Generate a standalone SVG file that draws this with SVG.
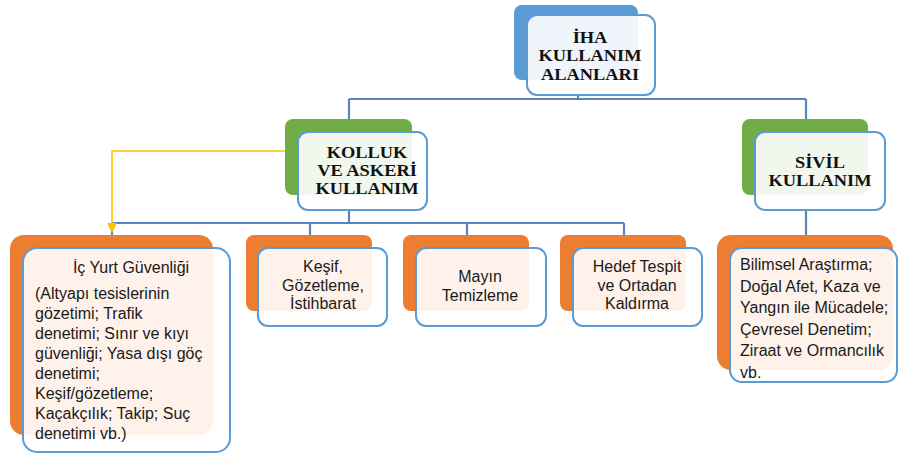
<svg xmlns="http://www.w3.org/2000/svg" width="899" height="454" viewBox="0 0 899 454">
<defs>
<style>
.bb{fill:#5B9BD5}
.bg{fill:#70AD47}
.bo{fill:#ED7D31}
.fr{fill:#FFFFFF;fill-opacity:0.9;stroke:#5B9BD5;stroke-width:2}
.ti{font-family:"Liberation Serif","Times New Roman",serif;font-weight:bold;font-size:16px;fill:#111;text-anchor:middle}
.tx{font-family:"Liberation Sans",Arial,sans-serif;font-size:16px;fill:#1a1a1a}
.c{text-anchor:middle}
.ln{fill:none;stroke:#5585C5;stroke-width:2.2}
.yl{fill:none;stroke:#FFC000;stroke-width:1.6}
</style>
</defs>
<rect width="899" height="454" fill="#FFFFFF"/>
<g id="connectors">
<path class="ln" d="M578 95 V99 M349 99 H806 M349 99 V119 M806 99 V119"/>
<path class="ln" d="M349 210 V223 M112 223 H624 M112 223 V235 M310 223 V235 M467 223 V235 M624 223 V235"/>
<path class="ln" d="M806 210 V235"/>
<path class="yl" d="M318 151 H112 V224"/>
<polygon points="107,223 117,223 112,233" fill="#FFC000"/>
</g>
<g id="iha">
<rect class="bb" x="514" y="5" width="124" height="75" rx="8"/>
<rect class="fr" x="527" y="15" width="128" height="80" rx="10"/>
<text class="ti" transform="translate(590,0) scale(1.15,1)"><tspan x="0" y="43">İHA</tspan><tspan x="0" y="61.5">KULLANIM</tspan><tspan x="0" y="80">ALANLARI</tspan></text>
</g>
<g id="kolluk">
<rect class="bg" x="285" y="119" width="127" height="76" rx="8"/>
<rect class="fr" x="298" y="132" width="129" height="78" rx="10"/>
<text class="ti" transform="translate(367,0) scale(1.15,1)"><tspan x="0" y="158.5">KOLLUK</tspan><tspan x="0" y="176.5">VE ASKERİ</tspan><tspan x="0" y="194.5">KULLANIM</tspan></text>
</g>
<g id="sivil">
<rect class="bg" x="742" y="119" width="126" height="76" rx="8"/>
<rect class="fr" x="755" y="132" width="130" height="78" rx="10"/>
<text class="ti" transform="translate(820,0) scale(1.15,1)"><tspan x="0" y="168">SİVİL</tspan><tspan x="0" y="186">KULLANIM</tspan></text>
</g>
<g id="icyurt">
<rect class="bo" x="10" y="235" width="203" height="200" rx="14"/>
<rect class="fr" x="23" y="248" width="207" height="204" rx="14"/>
<text class="tx c" x="131" y="273">İç Yurt Güvenliği</text>
<text class="tx"><tspan x="35" y="299">(Altyapı tesislerinin</tspan><tspan x="35" y="319">gözetimi; Trafik</tspan><tspan x="35" y="339">denetimi; Sınır ve kıyı</tspan><tspan x="35" y="359">güvenliği; Yasa dışı göç</tspan><tspan x="35" y="379">denetimi;</tspan><tspan x="35" y="399">Keşif/gözetleme;</tspan><tspan x="35" y="419">Kaçakçılık; Takip; Suç</tspan><tspan x="35" y="439">denetimi vb.)</tspan></text>
</g>
<g id="kesif">
<rect class="bo" x="246" y="235" width="126" height="76" rx="8"/>
<rect class="fr" x="258" y="248" width="129" height="78" rx="10"/>
<text class="tx c"><tspan x="323" y="272">Keşif,</tspan><tspan x="323" y="290.5">Gözetleme,</tspan><tspan x="323" y="309">İstihbarat</tspan></text>
</g>
<g id="mayin">
<rect class="bo" x="403" y="235" width="126" height="76" rx="8"/>
<rect class="fr" x="416" y="248" width="130" height="78" rx="10"/>
<text class="tx c"><tspan x="480" y="282">Mayın</tspan><tspan x="480" y="300.5">Temizleme</tspan></text>
</g>
<g id="hedef">
<rect class="bo" x="560" y="235" width="126" height="76" rx="8"/>
<rect class="fr" x="573" y="248" width="129" height="78" rx="10"/>
<text class="tx c"><tspan x="637" y="272">Hedef Tespit</tspan><tspan x="637" y="290.5">ve Ortadan</tspan><tspan x="637" y="309">Kaldırma</tspan></text>
</g>
<g id="sivil-alanlar">
<rect class="bo" x="717" y="235" width="176" height="135" rx="14"/>
<rect class="fr" x="730" y="248" width="167" height="134" rx="12"/>
<text class="tx"><tspan x="740" y="270">Bilimsel Araştırma;</tspan><tspan x="740" y="291.5">Doğal Afet, Kaza ve</tspan><tspan x="740" y="313">Yangın ile Mücadele;</tspan><tspan x="740" y="334.5">Çevresel Denetim;</tspan><tspan x="740" y="356">Ziraat ve Ormancılık</tspan><tspan x="740" y="377.5">vb.</tspan></text>
</g>
</svg>
